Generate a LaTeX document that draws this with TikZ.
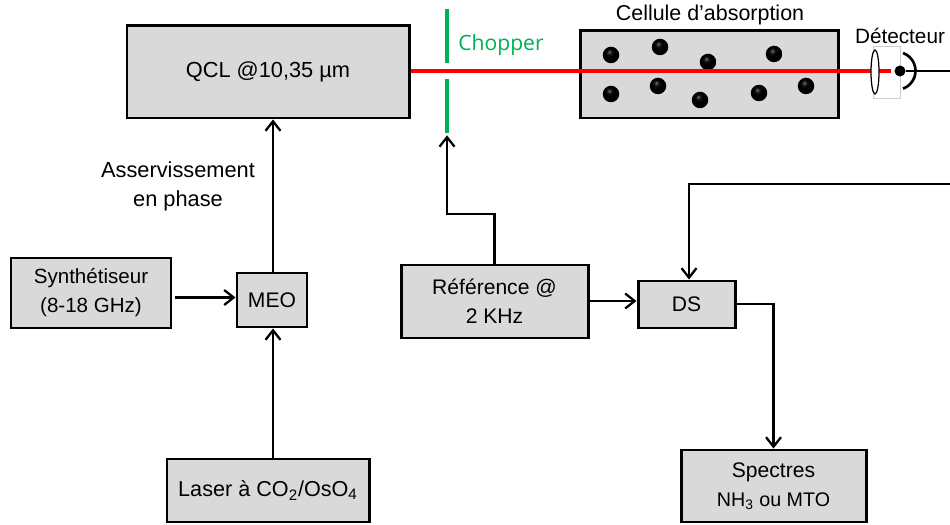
\documentclass[tikz,border=0pt]{standalone}
\usepackage{fontspec}
\setmainfont{Liberation Sans}
\newfontfamily\chopfont{Open Sans}
\usetikzlibrary{arrows.meta, positioning, shapes.geometric}
\definecolor{boxgray}{HTML}{D9D9D9}
\definecolor{chopgreen}{HTML}{00B050}
\pgfdeclareradialshading{molball}{\pgfpoint{-6bp}{10bp}}{color(0bp)=(black!55); color(7bp)=(black!92); color(14bp)=(black); color(50bp)=(black)}

\begin{document}
\begin{tikzpicture}[
        blockbox/.style={draw=black, fill=boxgray, line width=1.7pt, align=center,
                         font=\fontsize{12}{16.5}\selectfont, inner sep=0pt},
        blade/.style={fill=chopgreen, minimum width=0.09cm, inner sep=0pt},
        plain/.style={font=\fontsize{12.4}{16.5}\selectfont, align=center, inner sep=0pt},
        fil/.style={line width=1.4pt},
        >={Straight Barb[length=1.9mm, width=3mm, line width=1.3pt]}
    ]
        \useasboundingbox (0,0) rectangle (19,10.48);

        \node[blockbox, font=\fontsize{12.4}{16}\selectfont, minimum width=5.64cm, minimum height=1.84cm] (qcl) at (5.36, 9.04) {QCL @10,35 µm};
        \node[blockbox, minimum width=5.16cm, minimum height=1.74cm] (cell) at (14.18, 8.99) {};
        \node[blockbox, font=\fontsize{11.7}{16.5}\selectfont, minimum width=3.2cm, minimum height=1.4cm] (synth) at (1.82, 4.62) {Synthétiseur\\(8-18 GHz)};
        \node[blockbox, minimum width=1.4cm, minimum height=1.08cm] (meo) at (5.44, 4.48) {MEO};
        \node[blockbox, font=\fontsize{12.3}{16}\selectfont, minimum width=4.04cm, minimum height=1.26cm] (laser) at (5.36, 0.67) {Laser à CO\textsubscript{2}/OsO\textsubscript{4}};
        \node[blockbox, minimum width=3.74cm, minimum height=1.46cm] (ref) at (9.89, 4.45) {Référence @\\2 KHz};
        \node[blockbox, minimum width=1.94cm, minimum height=0.94cm] (ds) at (13.73, 4.39) {DS};
        \node[blockbox, minimum width=3.7cm, minimum height=1.44cm] (spectres) at (15.47, 0.76) {Spectres\\{\fontsize{11.2}{14}\selectfont NH\textsubscript{3} ou MTO}};

        % molecules
        \foreach \px/\py in {611/55, 660/47, 708/62, 774/54, 611/94, 658/86, 700/100, 759/93, 806/86}
            \shade[shading=molball] (\px/50, 10.48-\py/50) circle (0.165);

        % chopper
        \node[blade, minimum height=1.08cm] (bladetop) at (8.94, 9.76) {};
        \node[blade, minimum height=1.08cm] (bladebot) at (8.94, 8.36) {};
        \node[plain, text=chopgreen, font=\chopfont\fontsize{12}{14}\selectfont] (chopper) at (10.02, 9.58) {Chopper};

        % detecteur
        \node[draw=gray!40, line width=0.3pt, minimum width=0.54cm, minimum height=1.04cm, inner sep=0pt] (cadre) at (17.73, 9.04) {};
        \coordinate (beamend) at (17.82, 9.06);
        \coordinate (sortie) at (19, 9.06);
        \coordinate (retour) at (19, 6.8);
        \coordinate (synthout) at (3.5, 4.53);

        \draw[red, line width=2.3pt] (qcl.east |- beamend) -- (beamend);
        \node[draw=black, fill=white, ellipse, line width=0.7pt, minimum width=0.16cm, minimum height=0.88cm, inner sep=0pt] (lens) at (17.5, 9.04) {};
        \node[circle, fill=black, minimum size=0.22cm, inner sep=0pt] (det) at (18, 9.06) {};
        \draw[line width=1.5pt] (18.06, 9.42) arc[start angle=70, end angle=-70, radius=0.38];
        \draw[fil] (det) -- (sortie);

        \node[plain, font=\fontsize{11.8}{14}\selectfont] (detlabel) at (18, 9.76) {Détecteur};
        \node[plain, font=\fontsize{12.2}{14}\selectfont] (celllabel) at (14.2, 10.18) {Cellule d’absorption};
        \node[plain] (asserv) at (3.56, 6.75) {Asservissement\\en phase};

        \draw[->, fil] (meo.north -| 5.46,0) -- (qcl.south -| 5.46,0);
        \draw[->, fil] (laser.north -| 5.46,0) -- (meo.south -| 5.46,0);
        \draw[->, fil] (synthout) -- (meo.west |- synthout);
        \draw[->, fil] (ref.north) |- (8.94, 6.2) -- ([yshift=-0.04cm]bladebot.south);
        \draw[->, fil] (ref.east |- 0,4.46) -- (ds.west |- 0,4.46);
        \draw[->, fil] (ds.east |- 0,4.4) -| (spectres.north);
        \draw[->, fil] (retour) -| (ds.north -| 13.78,0);
    \end{tikzpicture}
\end{document}
